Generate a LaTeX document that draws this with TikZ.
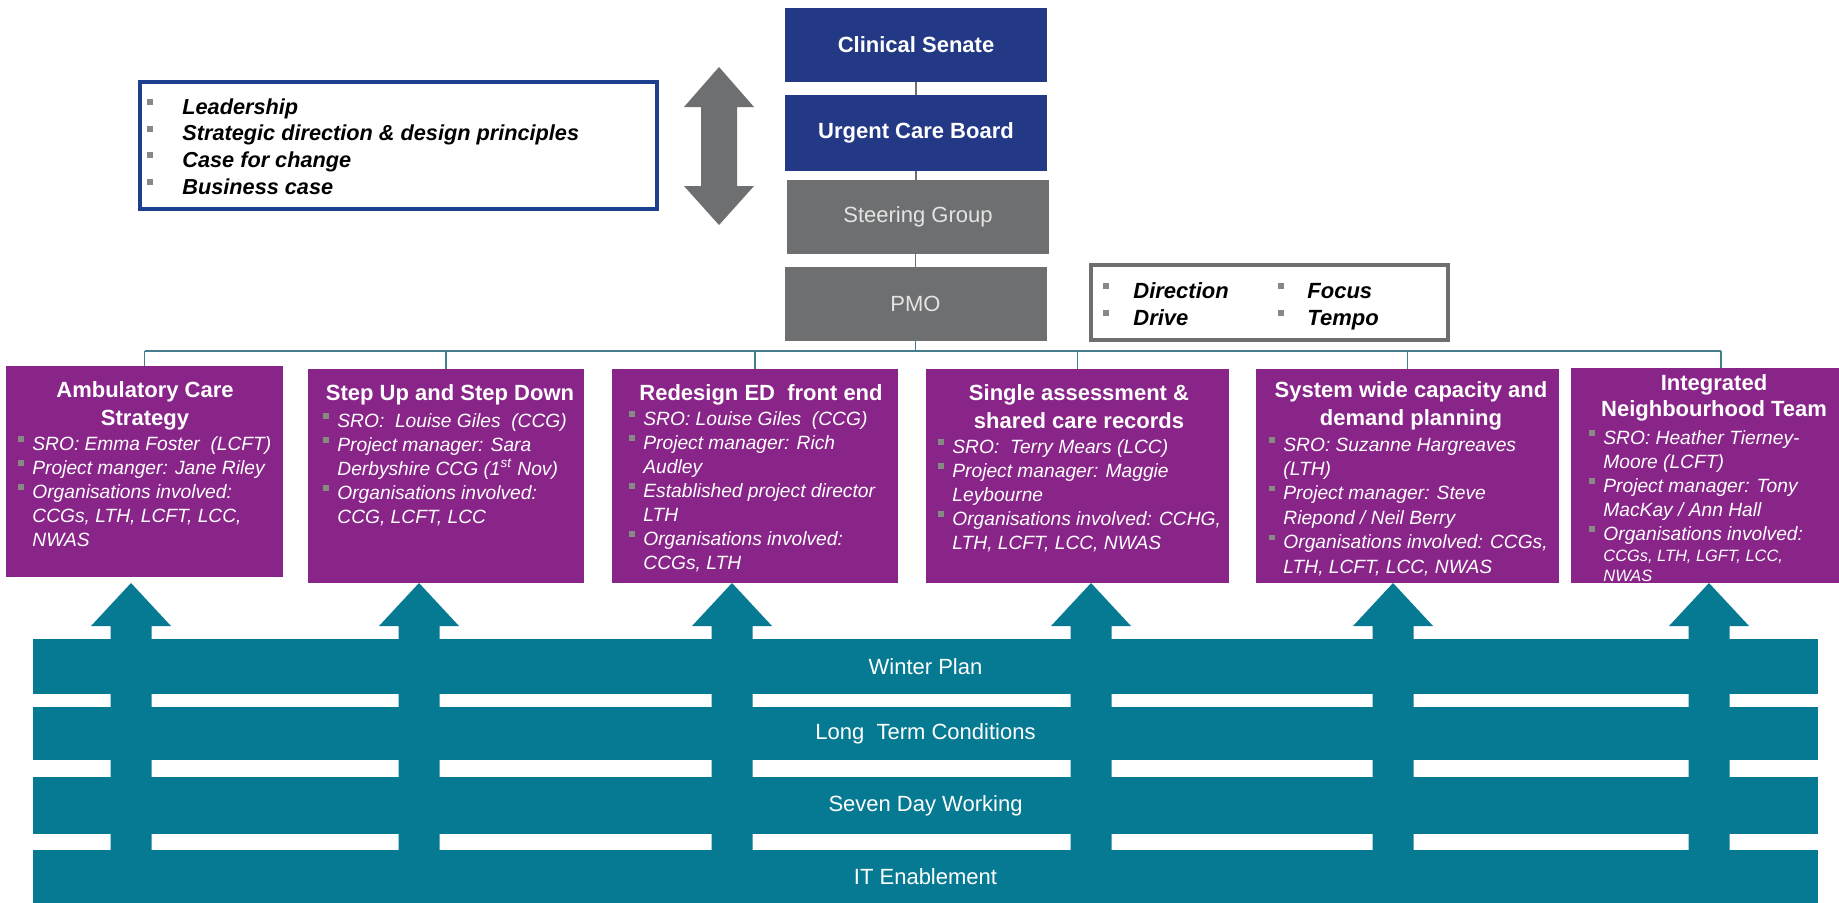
\documentclass[tikz,border=0pt]{standalone}
\usepackage{fontspec}
\setmainfont{Liberation Sans}
\definecolor{navy}{RGB}{35,57,133}
\definecolor{boxgray}{RGB}{110,111,113}
\definecolor{purp}{RGB}{137,36,137}
\definecolor{tealc}{RGB}{5,122,146}
\definecolor{leadblue}{RGB}{28,64,142}
\definecolor{bulgray}{RGB}{135,138,132}
\definecolor{conncol}{RGB}{70,125,140}
\definecolor{lighttext}{RGB}{228,228,228}
\newcommand{\bi}{\makebox[7pt][l]{\raisebox{4.2pt}{\textcolor{bulgray}{\rule{2.8pt}{2.8pt}}}}}
\newcommand{\bl}[1]{\makebox[#1][l]{\raisebox{4.5pt}{\textcolor{bulgray}{\rule{3pt}{3pt}}}}}
\begin{document}
\begin{tikzpicture}[x=0.5pt,y=-0.5pt,
  topbox/.style={rectangle, inner sep=0pt, minimum width=131pt, minimum height=37pt, text=white, font=\fontsize{11}{13}\selectfont},
  navybox/.style={topbox, fill=navy, font=\fontsize{11}{13}\selectfont\bfseries},
  graybox/.style={topbox, fill=boxgray, text=lighttext},
  pbox/.style={rectangle, fill=purp, inner sep=0pt},
  ptitle/.style={anchor=base, inner sep=0pt, text=white, font=\fontsize{11}{14}\selectfont\bfseries},
  pbody/.style={anchor=base west, inner sep=0pt, text=white, font=\fontsize{9.6}{12}\selectfont\itshape},
  band/.style={rectangle, fill=tealc, inner sep=0pt, minimum width=892.5pt, text=white, font=\fontsize{11}{13}\selectfont},
  conn/.style={draw=conncol, line width=0.8pt},
  tconn/.style={draw=boxgray, line width=0.6pt},
  listtxt/.style={anchor=base west, inner sep=0pt, text=black, font=\fontsize{10.85}{13.35}\selectfont\bfseries\itshape}
]
\useasboundingbox (0,0) rectangle (1839,902);
\fill[white] (0,0) rectangle (1839,902);

% top hierarchy
\node[navybox] (cs) at (916,45) {Clinical Senate};
\node[navybox, minimum height=38pt] (ucb) at (916,133) {Urgent Care Board};
\node[graybox] (sg) at (918,217) {Steering Group};
\node[graybox] (pmo) at (915.5,304) {PMO};
\draw[tconn] (cs.south) -- (ucb.north);
\draw[tconn] (ucb.south) -- (ucb.south |- sg.north);
\draw[tconn] (sg.south -| pmo.north) -- (pmo.north);

% leadership box
\node[draw=leadblue, line width=1.8pt, inner sep=0pt, minimum width=258.5pt, minimum height=63.5pt] (lead) at (398.5,145.5) {};
\node[listtxt] (leadtxt) at (147,114) {\begin{tabular}[t]{@{}l@{}l@{}}
\bl{17.5pt} & Leadership\\
\bl{17.5pt} & Strategic direction \& design principles\\
\bl{17.5pt} & Case for change\\
\bl{17.5pt} & Business case
\end{tabular}};

% double arrow
\fill[boxgray] (701,107) -- (684,107) -- (719,67) -- (754,107) -- (737,107) -- (737,186) -- (754,186) -- (719,225) -- (684,186) -- (701,186) -- cycle;

% direction box
\node[draw=boxgray, line width=2pt, inner sep=0pt, minimum width=178.5pt, minimum height=37.5pt] (dir) at (1269.5,302.5) {};
\node[listtxt, font=\fontsize{11}{13.5}\selectfont\bfseries\itshape] (dirl) at (1103,298) {\begin{tabular}[t]{@{}l@{}l@{}}
\bl{15pt} & Direction\\
\bl{15pt} & Drive
\end{tabular}};
\node[listtxt, font=\fontsize{11}{13.5}\selectfont\bfseries\itshape] (dirr) at (1278,298) {\begin{tabular}[t]{@{}l@{}l@{}}
\bl{14.5pt} & Focus\\
\bl{14.5pt} & Tempo
\end{tabular}};

% purple boxes
\node[pbox, minimum width=138.5pt, minimum height=105.5pt] (b1) at (144.5,471.5) {};
\node[pbox, minimum width=138pt, minimum height=107pt] (b2) at (446,476) {};
\node[pbox, minimum width=143pt, minimum height=107pt] (b3) at (755,476) {};
\node[pbox, minimum width=151.5pt, minimum height=107pt] (b4) at (1077.5,476) {};
\node[pbox, minimum width=151.5pt, minimum height=107pt] (b5) at (1407.5,476) {};
\node[pbox, minimum width=134pt, minimum height=107.5pt] (b6) at (1705,475.5) {};

% connectors
\coordinate (bus) at (0,351);
\coordinate (d6) at (1721,351);
\draw[conn] (pmo.south) -- (pmo.south |- bus);
\draw[conn] (b1.north |- bus) -- (d6);
\foreach \b in {b1,b2,b3,b4,b5} {\draw[conn] (\b.north |- bus) -- (\b.north);}
\draw[conn] (d6) -- (d6 |- b6.north);

% titles
\node[ptitle] (t1) at (145,397) {\begin{tabular}[t]{@{}c@{}}Ambulatory Care\\Strategy\end{tabular}};
\node[ptitle] (t2) at (450,400) {Step Up and Step Down};
\node[ptitle] (t3) at (761,400) {Redesign ED\ \ front end};
\node[ptitle] (t4) at (1079,400) {\begin{tabular}[t]{@{}c@{}}Single assessment \&\\shared care records\end{tabular}};
\node[ptitle] (t5) at (1411,397) {\begin{tabular}[t]{@{}c@{}}System wide capacity and\\demand planning\end{tabular}};
\node[ptitle, font=\fontsize{11}{13}\selectfont\bfseries] (t6) at (1714,390) {\begin{tabular}[t]{@{}c@{}}Integrated\\Neighbourhood Team\end{tabular}};

% bodies
\node[pbody] (p1) at (18,450) {\begin{tabular}[t]{@{}l@{}l@{}}
\bi & SRO: Emma Foster\ \ (LCFT)\\
\bi & Project manger: Jane Riley\\
\bi & Organisations involved:\\
 & CCGs, LTH, LCFT, LCC,\\
 & NWAS
\end{tabular}};
\node[pbody] (p2) at (323,427) {\begin{tabular}[t]{@{}l@{}l@{}}
\bi & SRO:\ \ Louise Giles\ \ (CCG)\\
\bi & Project manager: Sara\\
 & Derbyshire CCG (1\textsuperscript{st} Nov)\\
\bi & Organisations involved:\\
 & CCG, LCFT, LCC
\end{tabular}};
\node[pbody] (p3) at (629,425) {\begin{tabular}[t]{@{}l@{}l@{}}
\bi & SRO: Louise Giles\ \ (CCG)\\
\bi & Project manager: Rich\\
 & Audley\\
\bi & Established project director\\
 & LTH\\
\bi & Organisations involved:\\
 & CCGs, LTH
\end{tabular}};
\node[pbody] (p4) at (938,453) {\begin{tabular}[t]{@{}l@{}l@{}}
\bi & SRO:\ \ Terry Mears (LCC)\\
\bi & Project manager: Maggie\\
 & Leybourne\\
\bi & Organisations involved: CCHG,\\
 & LTH, LCFT, LCC, NWAS
\end{tabular}};
\node[pbody, font=\fontsize{9.6}{12.2}\selectfont\itshape] (p5) at (1269,451) {\begin{tabular}[t]{@{}l@{}l@{}}
\bi & SRO: Suzanne Hargreaves\\
 & (LTH)\\
\bi & Project manager: Steve\\
 & Riepond / Neil Berry\\
\bi & Organisations involved: CCGs,\\
 & LTH, LCFT, LCC, NWAS
\end{tabular}};
\node[pbody] (p6) at (1589,444) {\begin{tabular}[t]{@{}l@{}l@{}}
\bi & SRO: Heather Tierney-\\
 & Moore (LCFT)\\
\bi & Project manager: Tony\\
 & MacKay / Ann Hall\\
\bi & Organisations involved:
\end{tabular}};
\node[pbody, font=\fontsize{8.2}{10}\selectfont\itshape] (p6b) at (1603,561) {\begin{tabular}[t]{@{}l@{}}
CCGs, LTH, LGFT, LCC,\\
NWAS
\end{tabular}};

% bands
\node[band, minimum height=27.5pt] (wp) at (925.5,666.5) {Winter Plan};
\node[band, minimum height=26.5pt] (ltc) at (925.5,733.5) {Long\ \ Term Conditions};
\node[band, minimum height=28.5pt] (sdw) at (925.5,805.5) {Seven Day Working};
\node[band, minimum height=27pt] (ite) at (925.5,877) {IT Enablement};

% up arrows
\foreach \cx in {131,419,732,1091,1393,1709} {
  \fill[tealc] (\cx-20.5,904) -- (\cx-20.5,626) -- (\cx-40,626) -- (\cx,583) -- (\cx+40,626) -- (\cx+20.5,626) -- (\cx+20.5,904) -- cycle;
}
\end{tikzpicture}
\end{document}
